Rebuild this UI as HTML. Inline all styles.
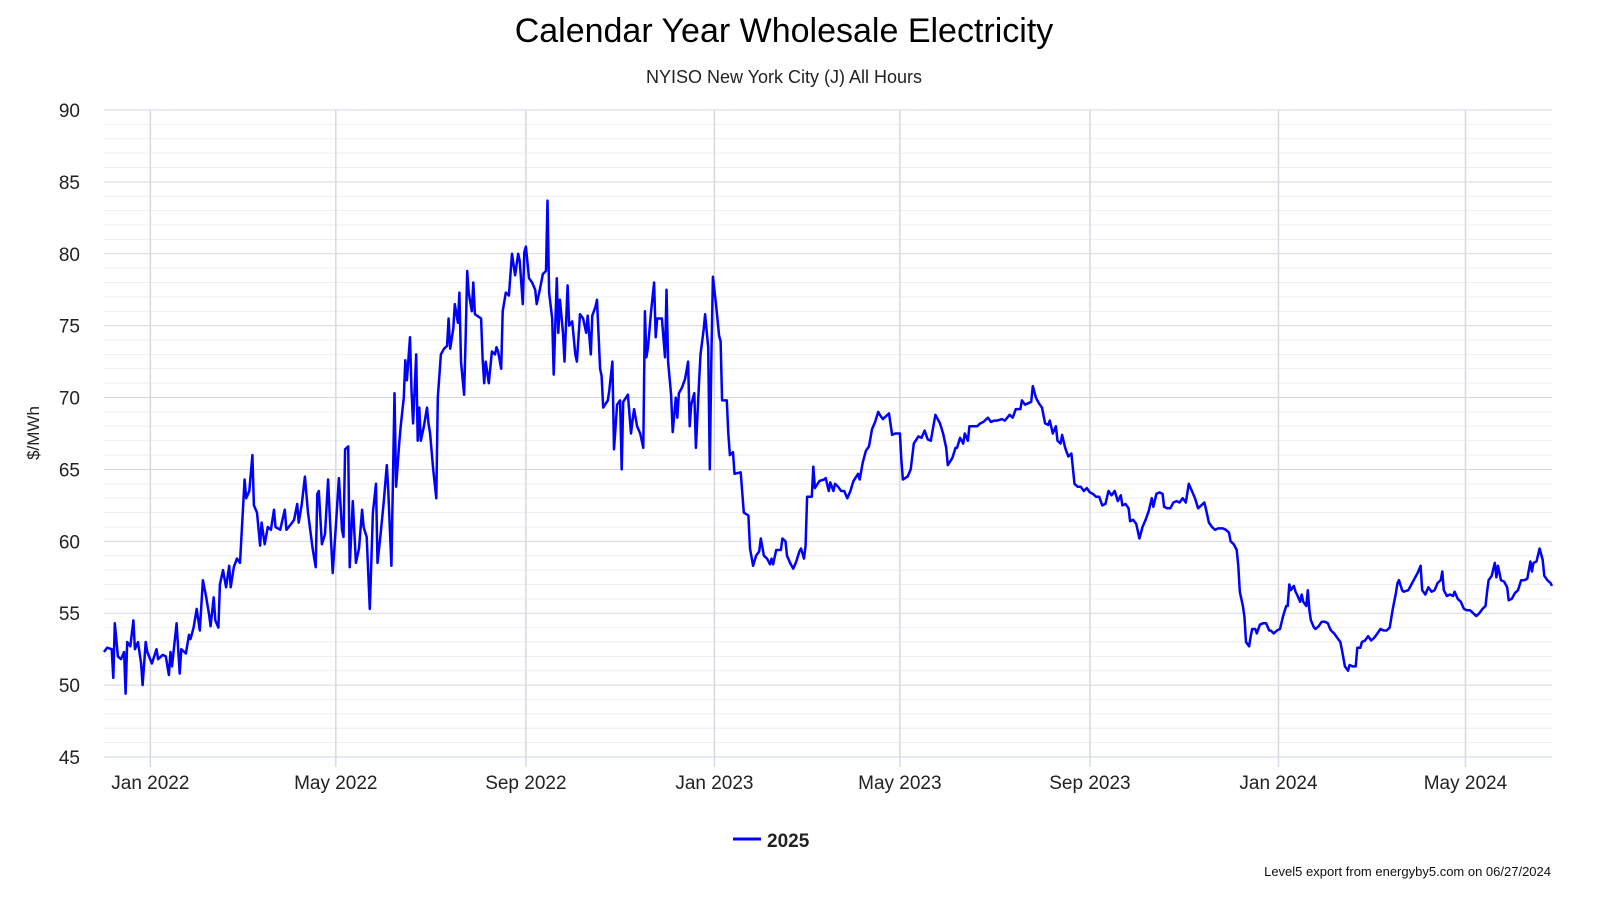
<!DOCTYPE html>
<html><head><meta charset="utf-8"><title>Calendar Year Wholesale Electricity</title>
<style>
html,body{margin:0;padding:0;background:#fff;overflow:hidden;width:1600px;height:900px;}
svg{display:block;font-family:"Liberation Sans","DejaVu Sans",sans-serif;}
</style></head>
<body>
<svg id="chart" width="1600" height="900" viewBox="0 0 1600 900">
<text x="784" y="42" text-anchor="middle" font-size="34" fill="#000">Calendar Year Wholesale Electricity</text>
<text x="784" y="83" text-anchor="middle" font-size="18" fill="#222">NYISO New York City (J) All Hours</text>
<text transform="translate(39,433) rotate(-90)" text-anchor="middle" font-size="17" fill="#222">$/MWh</text>
<g id="grid"></g>
<g id="yticks"></g>
<g id="xticks"></g>
<g id="series"></g>
<g>
<line x1="733" y1="839" x2="761" y2="839" stroke="#0000ff" stroke-width="3"/>
<text x="767" y="847" font-size="19" font-weight="bold" fill="#222">2025</text>
</g>
<text x="1551" y="876" text-anchor="end" font-size="13" fill="#111">Level5 export from energyby5.com on 06/27/2024</text>
</svg>
<script>
const yTicks=[45,50,55,60,65,70,75,80,85,90];
const xTickLabels=["Jan 2022","May 2022","Sep 2022","Jan 2023","May 2023","Sep 2023","Jan 2024","May 2024"];
const xTickDays=[0,120,243,365,485,608,730,851];
const days=[-30,-28,-25,-24,-23,-21,-19,-17,-16,-15,-13,-11,-10,-8,-6,-5,-3,-2,1,4,5,8,10,12,13,14,17,19,20,23,25,26,28,30,32,34,36,38,39,41,42,44,45,47,49,51,52,54,56,58,61,62,64,66,67,69,71,72,74,76,78,80,81,84,87,88,91,93,95,96,98,100,102,105,107,108,109,111,113,115,116,118,120,122,124,125,126,128,129,131,133,135,137,138,140,142,144,146,147,149,151,153,154,156,158,159,161,162,164,165,166,168,169,170,172,173,174,175,177,179,180,181,183,185,186,188,190,192,193,194,196,197,199,200,201,203,204,205,206,208,209,210,214,215,216,217,219,221,223,224,225,227,228,230,232,234,236,238,239,241,242,243,245,247,249,250,252,254,256,257,258,260,261,263,264,265,267,268,270,271,273,275,276,278,280,282,283,285,286,288,289,291,292,293,296,297,299,300,302,304,305,306,309,311,312,313,315,317,319,320,321,322,324,326,327,328,330,331,333,334,335,337,338,340,341,342,344,346,348,349,350,352,353,355,356,358,359,361,362,363,364,366,368,369,370,373,374,375,377,378,382,384,387,388,390,392,394,395,397,399,401,402,403,405,408,409,411,412,414,416,418,420,421,423,424,425,428,429,430,433,436,437,439,440,442,443,445,447,449,451,453,455,458,459,461,463,465,467,469,471,472,474,476,478,480,482,485,486,487,490,492,494,497,499,501,503,505,508,511,513,515,516,519,521,522,524,526,527,529,530,532,535,537,539,542,544,546,548,551,553,556,558,560,563,564,566,568,570,571,573,575,577,579,581,582,584,586,587,589,590,592,594,596,598,600,602,604,606,608,610,612,614,616,618,620,622,624,626,628,629,631,633,634,636,638,640,642,644,646,648,649,651,653,655,656,658,660,662,664,666,668,670,672,674,676,678,680,682,683,685,687,689,691,694,696,698,699,701,703,704,705,707,708,709,711,712,713,715,716,718,720,722,724,725,727,729,731,733,735,736,737,738,740,741,742,744,745,746,748,749,750,751,753,754,756,758,760,762,763,764,766,768,770,771,773,775,776,778,780,781,783,784,786,788,790,792,794,796,798,800,802,804,806,807,808,810,811,814,816,818,820,822,823,825,827,829,831,833,835,836,837,839,841,843,844,846,848,850,852,854,856,858,860,862,864,865,866,868,870,871,872,874,876,878,879,881,883,885,887,889,891,893,894,895,897,899,901,902,904,906,907];
const prices=[52.3,52.6,52.5,50.5,54.3,52,51.8,52.3,49.4,53,52.7,54.5,52.5,53,51.5,50,53,52.3,51.5,52.5,51.8,52.1,52,50.7,52.3,51.3,54.3,50.8,52.5,52.2,53.5,53.2,54,55.3,53.8,57.3,56.2,54.9,54.1,56.1,54.5,54,57,58,56.8,58.3,56.8,58.2,58.8,58.5,64.3,63,63.5,66,62.5,62,59.7,61.3,59.8,61,60.8,62.2,61,60.8,62.2,60.8,61.2,61.5,62.6,61.3,62.6,64.5,62,59.5,58.2,63.3,63.5,59.8,60.5,64.3,62,57.8,61,64.4,60.8,60.3,66.4,66.6,58.2,62.8,58.5,59.5,62.2,61,60.3,55.3,62,64,58.5,60.5,62.7,65.3,63.5,58.3,70.3,63.8,66.8,68,70,72.6,71.2,74.2,70.5,68.2,73,67,69.3,67,68,69.3,68.2,67.5,65,63,70,73,73.4,73.6,75.5,73.4,74.8,76.5,75.2,77.3,72.5,70.2,74,78.8,77.3,76,78,75.8,75.5,72.7,71,72.5,71,73.2,73,73.5,73.2,72,76,77.3,77.1,80,78.5,80,79.5,76.5,80.1,80.5,78.3,78,77.5,76.5,77.5,78.6,78.8,83.7,77.3,75.5,71.6,78.3,74.5,76.8,74.5,72.5,77.8,75,75.3,73,72.5,75.8,75.5,74.5,75.7,73,75.7,76.3,76.8,72,71.5,69.3,69.8,70.5,72.5,66.4,69.5,69.8,65,69.7,70.2,67.5,68.4,69.2,68,67.5,66.5,76,72.8,73.5,76,78,74.2,75.5,75.5,75.5,72.8,77.5,72.5,70.2,67.6,70,68.6,70.3,70.7,71.3,72.5,68,69.5,70.3,66.5,71,73,74.7,75.8,73.5,65,72.5,78.4,76.5,74.3,73.9,69.8,69.8,67.5,66,66.2,64.7,64.8,62,61.8,59.5,58.3,59,59.3,60.2,59,58.8,58.4,58.8,58.4,59.4,59.4,60.2,60,59,58.5,58.1,58.6,59.3,59.5,58.8,59.7,63.1,63.1,65.2,63.7,64.2,64.3,64.4,63.5,64.1,63.5,64,63.8,63.5,63.5,63,63.5,64.2,64.7,64.3,65.5,66.3,66.6,67.8,68.3,69,68.8,68.5,68.7,68.9,67.4,67.5,67.5,65.6,64.3,64.5,65,66.8,67.3,67.2,67.7,67.1,67,68.8,68.2,67.5,66.5,65.3,65.8,66.5,66.5,67.2,66.8,67.5,67,68,68,68,68.2,68.3,68.6,68.3,68.4,68.4,68.5,68.4,68.8,68.6,69.2,69.2,69.8,69.5,69.6,69.7,70.8,70,69.6,69.3,68.2,68.1,68.4,67.5,68,67,66.8,67.4,66.5,65.9,66.1,64,63.8,63.8,63.5,63.7,63.4,63.3,63.1,63.1,62.5,62.6,63.5,63.2,63.5,62.8,63.2,62.5,62.6,62.3,61.4,61.5,61.2,60.2,61,61.5,62.1,63,62.4,63.3,63.4,63.3,62.4,62.3,62.3,62.7,62.8,62.7,63,62.7,64,63.5,63,62.3,62.5,62.7,62.3,61.3,61,60.8,60.9,60.9,60.8,60.6,60,59.8,59.4,58.3,56.5,55.5,54.7,53,52.7,53.4,53.9,53.9,53.6,54.2,54.3,54.3,53.8,53.8,53.6,53.8,53.9,54.8,55.5,55.5,57,56.6,56.9,56.5,56.3,55.8,56.3,55.8,55.5,56.6,55.2,54.5,54,53.9,54.1,54.4,54.4,54.3,54,53.8,53.6,53.3,53,52.5,51.3,51,51.4,51.3,51.3,52.6,52.6,53,53.1,53.4,53.1,53.3,53.6,53.9,53.8,53.8,54,55.3,56.4,57.1,57.3,56.6,56.5,56.6,57,57.4,57.8,58.3,56.6,56.3,56.8,56.5,56.6,57.1,57.3,57.9,56.6,56.2,56.3,56.2,56.5,56,55.8,55.3,55.2,55.2,55,54.8,55,55.3,55.5,56.5,57.3,57.6,58.5,57.5,58.3,57.3,57.2,56.8,55.9,56,56.4,56.6,57.3,57.3,57.4,58.6,57.9,58.5,58.6,59.5,58.7,57.6,57.3,57.1,56.9];

const NS="http://www.w3.org/2000/svg";
const L=104,R=1552,T=110,B=757;
const X0=-30,X1=907,Y0=45,Y1=90;
function xs(d){return L+(d-X0)/(X1-X0)*(R-L);}
function ys(v){return B-(v-Y0)/(Y1-Y0)*(B-T);}
function mk(tag,attrs,parent){const e=document.createElementNS(NS,tag);for(const k in attrs)e.setAttribute(k,attrs[k]);parent.appendChild(e);return e;}
const grid=document.getElementById('grid');
for(let v=Y0;v<=Y1;v++){
  if(v%5===0)continue;
  const ln=mk('line',{x1:L,x2:R,y1:ys(v),y2:ys(v),stroke:'#eceef3','stroke-width':1},grid);
  
  
}
const yg=document.getElementById('yticks');
yTicks.forEach(v=>{
  const ln=mk('line',{x1:L,x2:R,y1:ys(v),y2:ys(v),stroke:'#d6d9e3','stroke-width':1},grid);
  
  
  const t=mk('text',{x:80,y:ys(v)+7,'text-anchor':'end','font-size':19,fill:'#222'},yg);
  t.textContent=v;
  
  
});
const xg=document.getElementById('xticks');
xTickDays.forEach((d,i)=>{
  const ln=mk('line',{x1:xs(d),x2:xs(d),y1:T,y2:B+10,stroke:'#d6d9e3','stroke-width':1.5},grid);
  
  
  const t=mk('text',{x:xs(d),y:789,'text-anchor':'middle','font-size':19,fill:'#222'},xg);
  t.textContent=xTickLabels[i];
  
  
});
const base=mk('line',{x1:L,x2:R,y1:B,y2:B,stroke:'#ccd6eb','stroke-width':1},xg);


const pts=days.map((d,i)=>xs(d).toFixed(1)+','+ys(prices[i]).toFixed(1)).join(' ');
const pl=mk('polyline',{points:pts,fill:'none',stroke:'#0000ff','stroke-width':2.5,'stroke-linejoin':'round'},document.getElementById('series'));


</script>
</body></html>
